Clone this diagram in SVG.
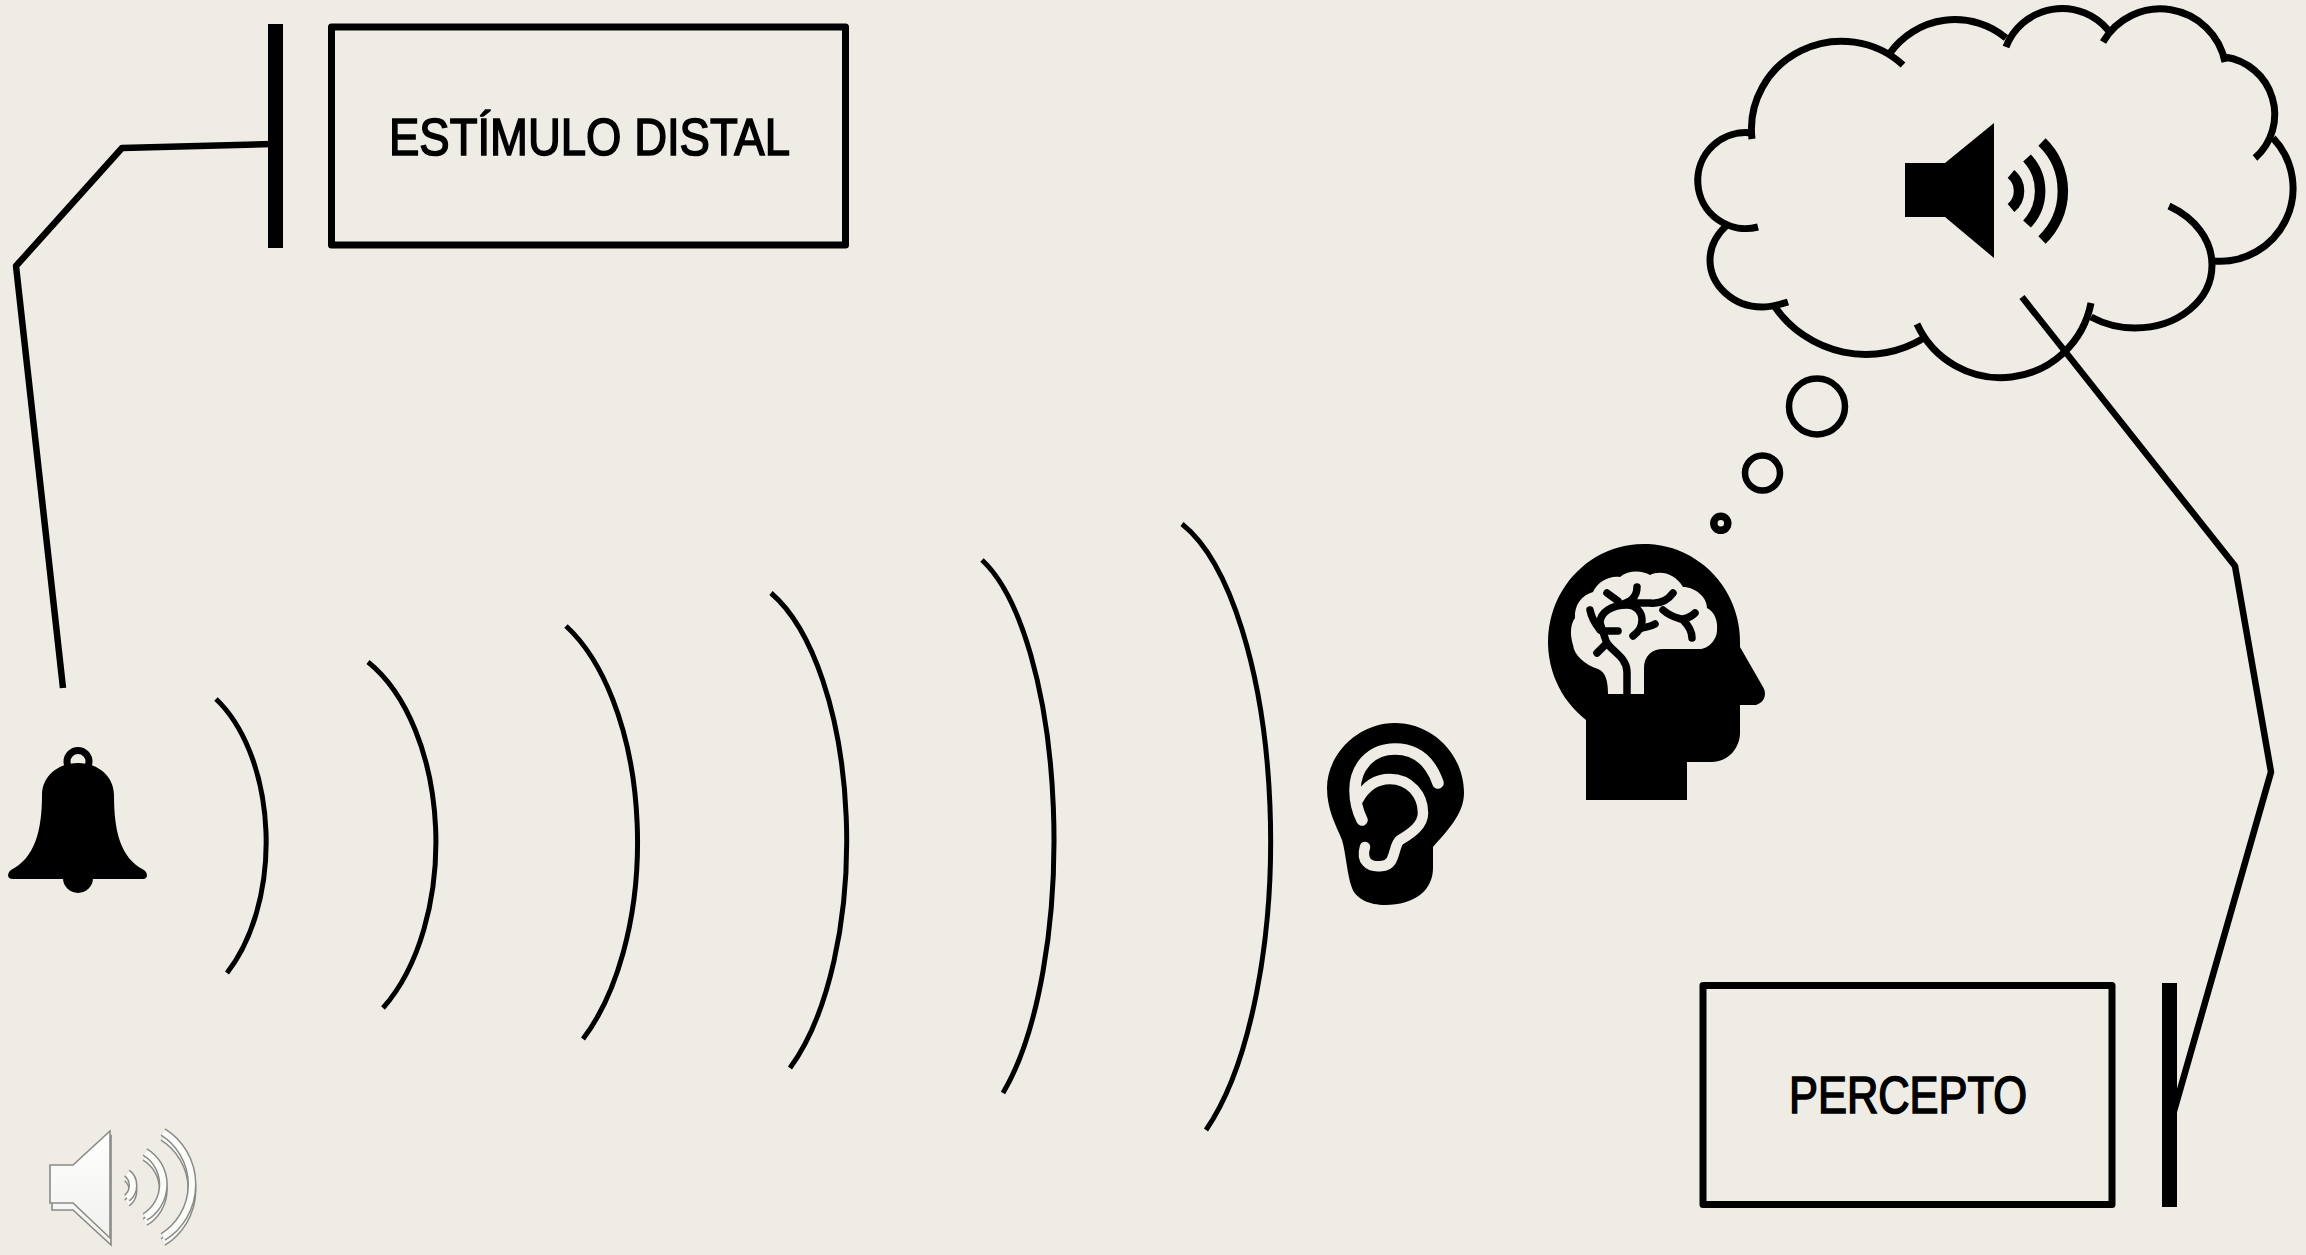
<svg xmlns="http://www.w3.org/2000/svg" width="2306" height="1255" viewBox="0 0 2306 1255">
<style>
.box{fill:none;stroke:#000;stroke-width:7;stroke-linejoin:round}
.lbl{font-family:"Liberation Sans",Arial,sans-serif;font-size:51px;fill:#000;stroke:#000;stroke-width:1.6}
.conn{fill:none;stroke:#000;stroke-width:6.5;stroke-linejoin:round}
.wave{fill:none;stroke:#000;stroke-width:5}
.cloud{fill:none;stroke:#000;stroke-width:7}
.spk{fill:none;stroke:#000;stroke-width:10.500}
.bg{fill:none;stroke:#eeece4;stroke-linecap:round;stroke-linejoin:round}
.vein{fill:none;stroke:#000;stroke-width:7.500;stroke-linecap:round;stroke-linejoin:round}
.ring{fill:none;stroke:#000;stroke-width:6.500}
.gs{stroke:#8a8a86;stroke-width:1.6;fill:url(#g)}
.ga{fill:none;stroke:#8a8a86;stroke-width:9}
.gb{fill:none;stroke:#fbfbfa;stroke-width:6}
</style>
<defs>
<linearGradient id="g" x1="0" y1="0" x2="0" y2="1"><stop offset="0" stop-color="#fff"/><stop offset="1" stop-color="#f1f1ee"/></linearGradient>
</defs>
<rect width="2306" height="1255" fill="#eeece4"/>
<g id="connectors">
<polyline class="conn" points="63,688 16,266 122,148 272,144"/>
<polyline class="conn" points="2022,297 2235,566 2271,772 2172,1118"/>
</g>
<g id="estimulo-distal">
<rect x="268" y="24" width="15" height="224"/>
<rect class="box" x="331.500" y="27" width="514" height="218"/>
<text class="lbl" x="389" y="155" textLength="401" lengthAdjust="spacingAndGlyphs">ESTÍMULO DISTAL</text>
</g>
<g id="percepto">
<rect x="2162" y="983" width="15" height="224"/>
<rect class="box" x="1703" y="985.500" width="409" height="219"/>
<text class="lbl" x="1789" y="1113" textLength="238" lengthAdjust="spacingAndGlyphs">PERCEPTO</text>
</g>
<g id="bell">
<circle cx="78" cy="761.500" r="11" fill="none" stroke="#000" stroke-width="7"/>
<path d="M78,763C57,763 42,777 42,795C42,830 35,858 11,870Q8,872 8,875Q8,879 13,879H143Q147,879 147,875Q147,872 144,870C120,858 114,830 114,795C114,777 99,763 78,763Z"/>
<circle cx="78" cy="878" r="15"/>
</g>
<g id="sound-waves">
<path class="wave" d="M216,699A100,165 0 0 1 227,973"/>
<path class="wave" d="M368,662A120,200 0 0 1 383,1008"/>
<path class="wave" d="M566,626A127,240 0 0 1 583,1039"/>
<path class="wave" d="M771,593A117,265 0 0 1 790,1068"/>
<path class="wave" d="M982,560A105,295 0 0 1 1003,1093"/>
<path class="wave" d="M1182,524A124,330 0 0 1 1206,1130"/>
</g>
<g id="ear">
<path d="M1395,723C1433,723 1464,755 1464,793C1464,815 1445,833 1433,847V868C1433,890 1415,905 1385,905C1370,905 1356,899 1352,888C1347,875 1346,853 1342,840C1336,825 1327,810 1327,788C1327,755 1357,723 1395,723Z"/>
<path class="bg" stroke-width="11.500" d="M1438,783C1430,760 1415,749 1395,749C1370,749 1355,768 1355,790C1355,800 1358,812 1362,820"/>
<path class="bg" stroke-width="10.500" d="M1358,800C1365,787 1376,779 1390,779C1410,779 1423,795 1423,813C1423,825 1412,833 1400,840C1393,845 1396,866 1382,866C1368,868 1361,860 1365,847"/>
</g>
<g id="head">
<path d="M1586,720V800H1687V762H1712C1728,762 1740,748 1740,733V705H1753C1763,705 1768,695 1763,687L1740,647V642A96,98 0 1 0 1586,720Z"/>
<path fill="#eeece4" d="M1608,694C1608,682 1606,672 1598,669C1585,665 1574,655 1573,645C1570,635 1570,625 1575,618C1574,605 1582,595 1593,592C1597,582 1610,575 1620,577C1628,570 1642,570 1650,575C1660,570 1675,573 1683,587C1695,587 1707,597 1707,608C1715,612 1718,622 1717,630C1717,640 1708,649 1700,649H1663C1652,649 1644,656 1644,668V694Z"/>
<g class="vein">
<path d="M1627,694V672C1627,655 1607,650 1605,638L1600,623C1600,612 1612,605 1627,605C1636,605 1642,612 1642,620C1642,628 1638,632 1633,636"/>
<path d="M1590,610C1592,620 1597,626 1600,630"/>
<path d="M1618,631H1603"/>
<path d="M1597,653L1605,645"/>
<path d="M1607,593L1618,601"/>
<path d="M1637,587C1637,598 1630,602 1620,605"/>
<path d="M1635,603H1650C1660,604 1668,600 1673,593"/>
<path d="M1663,610C1672,618 1680,618 1683,620C1690,627 1692,632 1692,638"/>
<path d="M1683,619C1688,618 1692,616 1695,613"/>
<path d="M1655,624C1650,627 1646,627 1642,628"/>
</g>
</g>
<g id="thought-bubbles">
<circle class="ring" cx="1817" cy="406.500" r="28"/>
<circle class="ring" cx="1762.500" cy="473" r="17.500"/>
<circle class="ring" cx="1720.800" cy="523.300" r="7" style="stroke-width:7.500"/>
</g>
<g id="cloud">
<path class="cloud" d="M1752,139A90,88 0 0 1 1903,65"/>
<path class="cloud" d="M1890,53A80,80 0 0 1 2006,38"/>
<path class="cloud" d="M2006,47A60,60 0 0 1 2108,30"/>
<path class="cloud" d="M2103,42A66,66 0 0 1 2225,62"/>
<path class="cloud" d="M2225,57A58,58 0 0 1 2255,158"/>
<path class="cloud" d="M2273,138A73,73 0 0 1 2214,261"/>
<path class="cloud" d="M2169,206C2195,218 2212,240 2212,265C2212,300 2178,328 2135,328C2118,328 2104,324 2091,317"/>
<path class="cloud" d="M2091,303A92,92 0 0 1 1917,324"/>
<path class="cloud" d="M1924,338A111,111 0 0 1 1775,307"/>
<path class="cloud" d="M1788,302C1775,306 1768,307 1762,307C1733,307 1710,285 1710,260C1710,247 1716,235 1727,225"/>
<path class="cloud" d="M1758,227A48,48 0 1 1 1752,133"/>
</g>
<g id="speaker">
<polygon points="1905,163 1945,163 1994,123 1994,258 1945,217 1905,217"/>
<path class="spk" d="M2011,174A22,22 0 0 1 2011,208"/>
<path class="spk" d="M2027,158A48,48 0 0 1 2027,224"/>
<path class="spk" d="M2042,142A68,68 0 0 1 2042,240"/>
</g>
<g id="audio-icon">
<polygon class="gs" points="52,1170 73,1170 111,1136 111,1245 73,1210 52,1210"/>
<path class="ga" d="M127,1178A16,16 0 0 1 127,1203M145,1157A38,38 0 0 1 145,1222M163,1137A62,62 0 0 1 163,1242"/>
<path class="gb" d="M127,1178A16,16 0 0 1 127,1203M145,1157A38,38 0 0 1 145,1222M163,1137A62,62 0 0 1 163,1242"/>
<polygon class="gs" points="50,1165 73,1165 110,1131 110,1238 73,1203 50,1203"/>
<path class="ga" d="M127,1173A16,16 0 0 1 127,1198M145,1152A38,38 0 0 1 145,1217M163,1132A62,62 0 0 1 163,1237"/>
<path class="gb" d="M127,1173A16,16 0 0 1 127,1198M145,1152A38,38 0 0 1 145,1217M163,1132A62,62 0 0 1 163,1237"/>
</g>
</svg>
